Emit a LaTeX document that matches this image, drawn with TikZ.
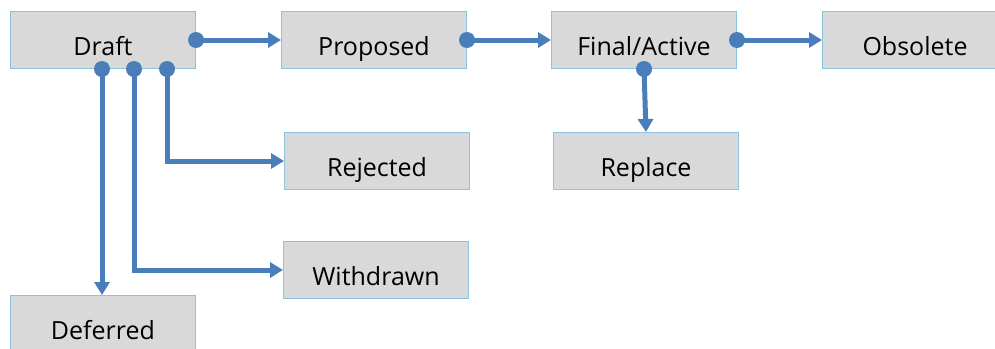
\documentclass[tikz,border=0pt]{standalone}
\usepackage{fontspec}
\setmainfont{Open Sans}
\usetikzlibrary{arrows.meta,calc}
\definecolor{boxfill}{HTML}{D9D9D9}
\definecolor{boxline}{HTML}{8CC4E0}
\definecolor{flow}{HTML}{4A7EBB}
\tikzset{
  state/.style={draw=boxline, line width=1pt, fill=boxfill, minimum width=185pt, minimum height=57pt,
    inner sep=0pt, text height=30pt, text depth=0pt, font=\fontsize{25}{25}\selectfont, anchor=north west},
  conn/.style={draw=flow, line width=5pt, -{Triangle[length=13pt,width=15pt]}},
  dot/.style={fill=flow}
}
\begin{document}
\begin{tikzpicture}[x=1pt,y=-1pt]
\useasboundingbox (0,0) rectangle (995,348);
\begin{scope}
\clip (0,0) rectangle (995,348);
\node[state] (draft) at (10,11) {Draft};
\node[state] (proposed) at (281,11) {Proposed};
\node[state] (final) at (551,11) {Final/Active};
\node[state] (obsolete) at (822,11) {Obsolete};
\node[state] (rejected) at (284,132) {Rejected};
\node[state] (replace) at (553,132) {Replace};
\node[state] (withdrawn) at (283,241) {Withdrawn};
\node[state] (deferred) at (10,295) {Deferred};
\end{scope}
\coordinate (d1) at ($(draft.south west)+(92,0)$);
\coordinate (d2) at ($(draft.south west)+(124,0)$);
\coordinate (d3) at ($(draft.south west)+(157,0)$);
\coordinate (f1) at ($(final.south west)+(93,0)$);
\coordinate (r1) at ($(replace.north west)+(93,0)$);
\draw[conn] (draft.east) -- (proposed.west);
\draw[conn] (proposed.east) -- (final.west);
\draw[conn] (final.east) -- (obsolete.west);
\draw[conn] (f1) -- (r1);
\draw[conn] (d3) |- (rejected.west);
\draw[conn] (d2) |- (withdrawn.west);
\draw[conn] (d1) -- (d1 |- deferred.north);
\foreach \p in {draft.east,proposed.east,final.east,d1,d2,d3,f1}
  \fill[dot] (\p) circle (8pt);
\end{tikzpicture}
\end{document}
